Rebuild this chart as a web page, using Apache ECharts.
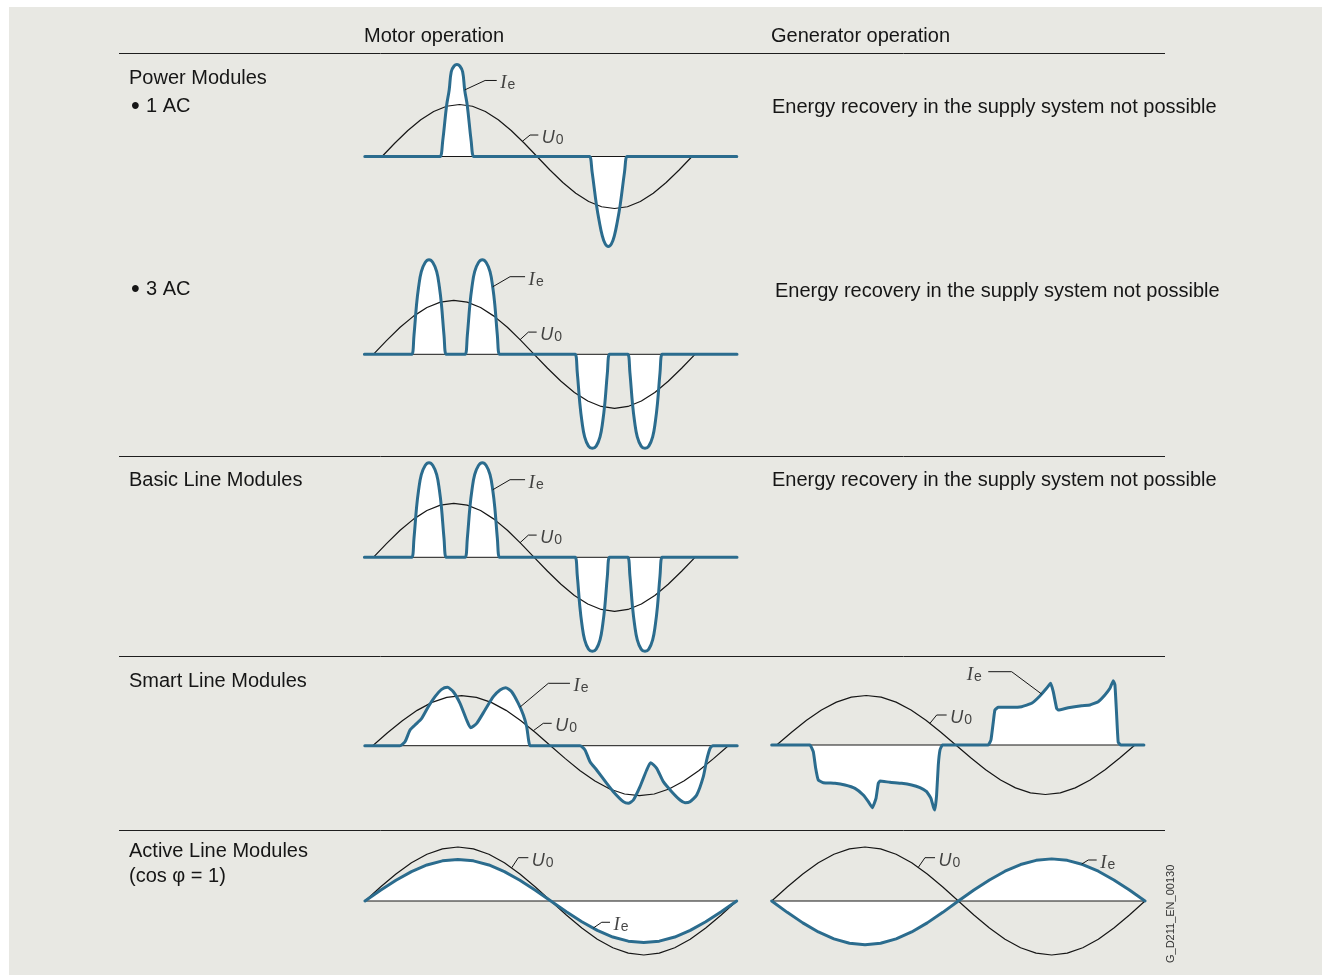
<!DOCTYPE html>
<html>
<head>
<meta charset="utf-8">
<title>Line current of the line modules</title>
<script src="https://cdn.jsdelivr.net/npm/echarts@6/dist/echarts.min.js"></script>
<style>
  html, body { margin: 0; padding: 0; background: #fff; }
  #chart { width: 1322px; height: 977px; }
</style>
</head>
<body>
<div id="chart"></div>
<script>
// electrical angle of the supply voltage (degrees)
var phase = [0, 15, 30, 45, 60, 75, 90, 105, 120, 135, 150, 165, 180,
  195, 210, 225, 240, 255, 270, 285, 300, 315, 330, 345, 360];
// supply voltage U0, % of its peak
var u0 = [0, 25.9, 50, 70.7, 86.6, 96.6, 100, 96.6, 86.6, 70.7, 50, 25.9, 0,
  -25.9, -50, -70.7, -86.6, -96.6, -100, -96.6, -86.6, -70.7, -50, -25.9, 0];
// Active Line Modules, line current Ie (same angles)
var ieActiveMotor = [0, 19.9, 38.5, 54.4, 66.7, 74.4, 77, 74.4, 66.7, 54.4, 38.5, 19.9, 0,
  -19.9, -38.5, -54.4, -66.7, -74.4, -77, -74.4, -66.7, -54.4, -38.5, -19.9, 0];
var ieActiveGen = [0, -21, -40.5, -57.3, -70.1, -78.2, -81, -78.2, -70.1, -57.3, -40.5, -21, 0,
  20.2, 39, 55.1, 67.5, 75.3, 78, 75.3, 67.5, 55.1, 39, 20.2, 0];

// Power Modules 1 AC: [angle, Ie]
var ie1ac = [[-20, 0], [64.5, 0], [67.5, 0], [70.5, 30], [75, 98], [78, 128], [80.4, 163],
  [83.7, 174], [87, 177], [90.3, 174], [93.6, 163], [96, 128], [99, 98], [103.5, 30],
  [106.5, 0], [109.5, 0], [238, 0], [241, 0], [244, -30], [249, -93], [252.3, -125],
  [255.6, -151], [259.2, -168], [262.8, -173], [266.4, -168], [270, -151], [273.3, -125],
  [276.6, -93], [281.6, -30], [284.6, 0], [287.6, 0], [412, 0]];

// Power Modules 3 AC and Basic Line Modules
var ie3ac = [[-10, 0], [40, 0], [43.1, 0], [45.5, 35], [48.3, 91], [50.7, 125], [53.7, 153],
  [58, 170], [62.3, 175], [66.6, 170], [70.9, 153], [73.9, 125], [76.3, 91], [79.1, 35],
  [81.5, 0], [84.5, 0], [99.8, 0], [102.8, 0], [105.2, 35], [108, 91], [110.4, 125],
  [113.4, 153], [117.7, 170], [122, 175], [126.3, 170], [130.6, 153], [133.6, 125], [136, 91],
  [138.8, 35], [141.2, 0], [144.2, 0], [222.9, 0], [225.9, 0], [228.3, -35], [231.1, -91],
  [233.5, -125], [236.5, -153], [240.8, -170], [245.1, -174], [249.4, -170], [253.7, -153],
  [256.7, -125], [259.1, -91], [261.9, -35], [264.3, 0], [267.3, 0], [281.8, 0], [284.8, 0],
  [287.2, -35], [290, -91], [292.4, -125], [295.4, -153], [299.7, -170], [304, -174],
  [308.3, -170], [312.6, -153], [315.6, -125], [318, -91], [320.8, -35], [323.2, 0],
  [326.2, 0], [407, 0]];

// Smart Line Modules, motor operation
var ieSmartMotor = [[-8, 0], [24.6, 0], [27.6, 0], [32.7, 8], [37.8, 31.4], [42.8, 41.4],
  [49.6, 54.7], [56.3, 78], [63.1, 98], [69.8, 112.7], [75.6, 116.7], [81.6, 108],
  [88.4, 84.7], [95.1, 51.4], [99.2, 36], [105.3, 44.7], [113.7, 71.4], [122.1, 98],
  [128.9, 111.4], [134.6, 116], [140.7, 108], [147.4, 84.7], [152.5, 61.4], [155.9, 38],
  [159.2, 0], [162.2, 0], [206.9, 0], [209.9, 0], [214.9, -8.6], [220, -31.9], [226.7, -48.6],
  [236.9, -75.3], [243.6, -91.9], [253.7, -111.9], [258.8, -115.3], [263.9, -108.6],
  [270.6, -81.9], [277.4, -48.6], [281.4, -33.9], [287.5, -45.3], [294.2, -71.9],
  [302.7, -91.9], [311.1, -108.6], [316.2, -113.9], [321.2, -111.9], [328, -98.6],
  [334.7, -61.9], [338.1, -28.6], [341.5, -5.3], [344.2, 0], [347.2, 0], [369, 0]];

// Smart Line Modules, generator operation
var ieSmartGen = [[-5, 0], [30.5, 0], [33.5, 0], [36.8, -13.5], [39.2, -47.1], [41.8, -70.7],
  [46.9, -76.1], [58.6, -77.4], [68.6, -80.8], [78.7, -87.5], [87, -101], [92.1, -114.5],
  [96.1, -126.6], [99.8, -107.7], [102.1, -77.4], [103.8, -72.7], [113.8, -75.4],
  [125.6, -77.4], [135.6, -80.8], [144, -86.2], [150.7, -94.3], [155, -107.7], [157.4, -124.6],
  [159, -131.3], [160.7, -101], [162.4, -40.4], [164.1, -10.1], [166.4, 0], [169.4, 0],
  [209.6, 0], [212.6, 0], [215.3, 10.1], [217.7, 47.1], [219.3, 70.7], [222.7, 76.1],
  [236.1, 76.1], [246.1, 77.4], [256.2, 84.2], [264.5, 99], [271.2, 114.5], [275.3, 124.6],
  [277.9, 107.7], [281.3, 74.1], [283, 70.7], [293, 75.4], [306.4, 79.5], [314.8, 80.8],
  [323.1, 87.5], [329.8, 101], [334.9, 114.5], [338.2, 130], [339.9, 121.2], [341.6, 60.6],
  [343.2, 5.4], [345.9, 0], [348.9, 0], [369, 0]];

// leader lines of the U0 / Ie labels, [angle, value]; the label sits at the last point
var leadU1 = [[162.9, 29], [171.9, 41.3], [181.5, 41.3]];
var leadIe1 = [[96, 128], [119.7, 146.2], [133.2, 146.2]];
var leadU3 = [[164.2, 27], [173.5, 41.1], [182.8, 41.1]];
var leadIe3 = [[133.6, 125], [153, 143.7], [169.8, 143.7]];
var leadUSm = [[162.6, 30], [172.7, 44.8], [181.2, 44.8]];
var leadIeSm = [[149, 77], [177.8, 124.8], [199.7, 124.8]];
var leadUSg = [[154, 43.8], [160.8, 60.6], [170.8, 60.6]];
var leadIeSg = [[266.2, 103], [236.1, 148.1], [212.6, 148.1]];
var leadUAm = [[142.1, 61.5], [148.5, 80.2], [158.2, 80.2]];
var leadIeAm = [[221.1, -50], [229.3, -39.4], [237.3, -39.4]];
var leadUAg = [[141.4, 62.4], [147.8, 80.2], [157.5, 80.2]];
var leadIeAg = [[298.9, 68.3], [305.3, 75.9], [313.4, 75.9]];

var rowLabels = ['Power Modules', '1 AC', '3 AC', 'Basic Line Modules',
  'Smart Line Modules', 'Active Line Modules', '(cos \u03c6 = 1)'];
var colLabels = ['Motor operation', 'Generator operation'];
var noRecovery = 'Energy recovery in the supply system not possible';

var BLUE = '#2b6c8e';
var INK = '#161616';
var FONT = '"Liberation Sans", Arial, sans-serif';

function zip(xs, ys) {
  return xs.map(function (x, i) { return [x, ys[i]]; });
}

var panels = [
  { grid: { left: 364.8, top: 57.7, width: 372, height: 197.6 }, x: [-20, 412], y: 190, ie: ie1ac, smooth: 0.4, uLead: leadU1, ieLead: leadIe1, ieSide: 'right' },
  { grid: { left: 364.4, top: 251.7, width: 372.6, height: 205.2 }, x: [-10, 407], y: 190, ie: ie3ac, smooth: 0.4, uLead: leadU3, ieLead: leadIe3, ieSide: 'right' },
  { grid: { left: 364.4, top: 454.7, width: 372.6, height: 205.2 }, x: [-10, 407], y: 190, ie: ie3ac, smooth: 0.4, uLead: leadU3, ieLead: leadIe3, ieSide: 'right' },
  { grid: { left: 364.8, top: 650.7, width: 372.4, height: 190 }, x: [-8, 369], y: 190, ie: ieSmartMotor, smooth: 0.2, uLead: leadUSm, ieLead: leadIeSm, ieSide: 'right' },
  { grid: { left: 771.7, top: 650.95, width: 372.2, height: 188.1 }, x: [-5, 369], y: 190, ie: ieSmartGen, smooth: 0.12, uLead: leadUSg, ieLead: leadIeSg, ieSide: 'left' },
  { grid: { left: 365, top: 836.2, width: 371.7, height: 129.6 }, x: [0, 360], y: 120, ie: zip(phase, ieActiveMotor), smooth: false, uLead: leadUAm, ieLead: leadIeAm, ieSide: 'right' },
  { grid: { left: 771.7, top: 836.2, width: 373.3, height: 129.6 }, x: [0, 360], y: 120, ie: zip(phase, ieActiveGen), smooth: false, uLead: leadUAg, ieLead: leadIeAg, ieSide: 'right' }
];

var rich = {
  u: { fontFamily: FONT, fontStyle: 'italic', fontSize: 18, lineHeight: 18, color: INK },
  i: { fontFamily: '"Liberation Serif", serif', fontStyle: 'italic', fontSize: 19, lineHeight: 18, color: INK },
  s: { fontFamily: FONT, fontSize: 14, lineHeight: 10, verticalAlign: 'bottom', color: INK, padding: [0, 0, 0, 1] }
};

var grids = [], xAxes = [], yAxes = [], series = [];

panels.forEach(function (p, k) {
  grids.push(p.grid);
  xAxes.push({ gridIndex: k, type: 'value', min: p.x[0], max: p.x[1], show: false });
  yAxes.push({ gridIndex: k, type: 'value', min: -p.y, max: p.y, show: false });
  var common = { xAxisIndex: k, yAxisIndex: k, type: 'line', symbol: 'none', silent: true };
  // white fill between Ie and zero
  series.push(Object.assign({}, common, {
    data: p.ie, smooth: p.smooth, z: 1,
    lineStyle: { width: 0, opacity: 0 },
    areaStyle: { color: '#ffffff', opacity: 1 }
  }));
  // zero line
  series.push(Object.assign({}, common, {
    data: [[p.x[0], 0], [p.x[1], 0]], z: 2,
    lineStyle: { color: INK, width: 1 }
  }));
  // U0
  series.push(Object.assign({}, common, {
    data: zip(phase, u0), z: 3,
    lineStyle: { color: INK, width: 1.2 }
  }));
  // Ie
  series.push(Object.assign({}, common, {
    data: p.ie, smooth: p.smooth, z: 4,
    lineStyle: { color: BLUE, width: 3, join: 'round', cap: 'round' }
  }));
  // leaders
  [p.uLead, p.ieLead].forEach(function (lead) {
    series.push(Object.assign({}, common, {
      data: lead, z: 5,
      lineStyle: { color: INK, width: 1 }
    }));
  });
  // labels
  series.push({
    type: 'scatter', xAxisIndex: k, yAxisIndex: k, silent: true, z: 6,
    symbolSize: 1, itemStyle: { color: 'rgba(0,0,0,0)' },
    data: [
      { value: p.uLead[p.uLead.length - 1], label: { show: true, position: 'right', distance: 3, offset: [0, 3], formatter: '{u|U}{s|0}', rich: rich } },
      { value: p.ieLead[p.ieLead.length - 1], label: { show: true, position: p.ieSide, distance: p.ieSide === 'left' ? 6 : 3, offset: [0, 3], formatter: '{i|I}{s|e}', rich: rich } }
    ]
  });
});

function txt(s, x, y, size, extra) {
  return Object.assign({
    type: 'text', x: x, y: y, z: 20, silent: true,
    style: { text: s, fontFamily: FONT, fontSize: size || 20, fill: INK, align: 'left', verticalAlign: 'middle' }
  }, extra || {});
}
function rule(y) {
  return { type: 'line', z: 20, silent: true, shape: { x1: 119, y1: y + 0.5, x2: 1165, y2: y + 0.5 }, style: { stroke: '#1e1e1e', lineWidth: 1 } };
}

var graphic = [
  { type: 'rect', z: -10, silent: true, shape: { x: 9, y: 7, width: 1313, height: 968 }, style: { fill: '#e8e8e3' } },
  rule(53), rule(456), rule(656), rule(830),
  txt(colLabels[0], 364, 36), txt(colLabels[1], 771, 36),
  txt(rowLabels[0], 129, 78),
  txt('\u2022', 131, 107, 25), txt(rowLabels[1], 146, 106),
  txt('\u2022', 131, 290, 25), txt(rowLabels[2], 146, 289),
  txt(rowLabels[3], 129, 480), txt(rowLabels[4], 129, 681), txt(rowLabels[5], 129, 851),
  txt(rowLabels[6], 129, 876),
  txt(noRecovery, 772, 107), txt(noRecovery, 775, 291), txt(noRecovery, 772, 480),
  txt('G_D211_EN_00130', 1171, 963, 11, { rotation: Math.PI / 2, style: { text: 'G_D211_EN_00130', fontFamily: FONT, fontSize: 11, fill: '#333', align: 'left', verticalAlign: 'middle' } })
];

var chart = echarts.init(document.getElementById('chart'), null, { renderer: 'canvas' });
chart.setOption({
  backgroundColor: '#ffffff',
  animation: false,
  grid: grids,
  xAxis: xAxes,
  yAxis: yAxes,
  series: series,
  graphic: graphic
});
</script>
</body>
</html>
